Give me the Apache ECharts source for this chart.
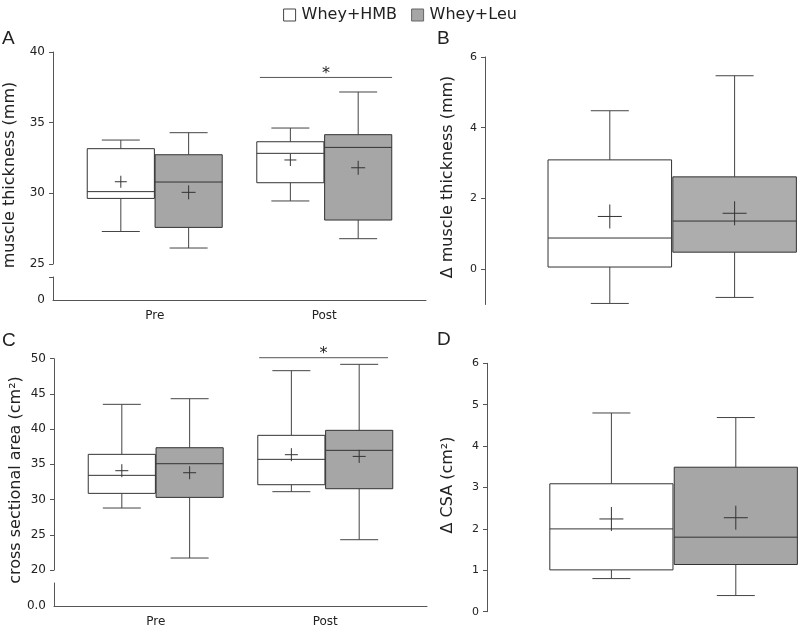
<!DOCTYPE html>
<html>
<head>
<meta charset="utf-8">
<script src="https://cdn.jsdelivr.net/npm/echarts@6/dist/echarts.min.js"></script>
<style>
html,body{margin:0;padding:0;background:#fff;}
#chart{width:800px;height:636px;}
</style>
</head>
<body>
<div id="chart"></div>
<script>
// ---- data (each box: [whisker min, Q1, median, Q3, whisker max, mean]) ----
const categories = ['Pre', 'Post'];
const groups = ['Whey+HMB', 'Whey+Leu'];

const mtHMB  = [[27.30, 29.64, 30.12, 33.16, 33.77, 30.82], [29.46, 30.75, 32.83, 33.65, 34.62, 32.36]];
const mtLeu  = [[26.13, 27.59, 30.80, 32.73, 34.29, 30.07], [26.79, 28.11, 33.25, 34.15, 37.17, 31.81]];
const dmtHMB = [-0.97, 0.06, 0.88, 3.09, 4.48, 1.49];
const dmtLeu = [-0.80, 0.48, 1.36, 2.61, 5.47, 1.58];
const csaHMB = [[28.80, 30.88, 33.44, 36.42, 43.52, 34.10], [31.12, 32.11, 35.71, 39.12, 48.30, 36.37]];
const csaLeu = [[21.70, 30.31, 35.09, 37.36, 44.32, 33.81], [24.30, 31.54, 36.99, 39.83, 49.20, 36.13]];
const dcsaHMB = [0.80, 1.01, 2.00, 3.09, 4.80, 2.24];
const dcsaLeu = [0.39, 1.14, 1.80, 3.49, 4.69, 2.27];

// significance brackets: [x start, x end, y]
const sigA = [1.62, 2.40, 38.2];
const sigC = [1.61, 2.37, 50.14];

// tick labels
const ticksA = [25, 30, 35, 40];
const ticksB = [0, 2, 4, 6];
const ticksC = [20, 25, 30, 35, 40, 45, 50];
const ticksD = [0, 1, 2, 3, 4, 5, 6];

// ---- styling ----
const FONT = 'DejaVu Sans';
const TXT = '#222';
const AX = '#555';
const BOX_OFF = 0.2, BOX_HALF = 0.198;
const FILL_HMB = '#ffffff';
const FILL_LEU = '#a6a6a6';
const FILL_LEU_B = '#adadad';

function boxSeries(name, rows, idx, offset, fill, crossPx) {
  return {
    type: 'custom', name: name, xAxisIndex: idx, yAxisIndex: idx,
    data: rows.map((d, i) => [i + 1].concat(d)),
    encode: { x: 0, y: [1, 2, 3, 4, 5, 6] },
    silent: true,
    renderItem: function (params, api) {
      const cx = api.value(0) + offset;
      const c = v => api.coord([cx, v]);
      const px = c(api.value(1))[0];
      const yMin = c(api.value(1))[1], yQ1 = c(api.value(2))[1], yMed = c(api.value(3))[1];
      const yQ3 = c(api.value(4))[1], yMax = c(api.value(5))[1], yMean = c(api.value(6))[1];
      const hw = api.size([BOX_HALF, 0])[0];
      const cap = 19;
      const ln = (x1, y1, x2, y2, col) => ({ type: 'line', shape: { x1, y1, x2, y2 }, style: { stroke: col || '#444', lineWidth: 1 } });
      return {
        type: 'group',
        children: [
          ln(px, yQ3, px, yMax), ln(px - cap, yMax, px + cap, yMax),
          ln(px, yQ1, px, yMin), ln(px - cap, yMin, px + cap, yMin),
          { type: 'rect', shape: { x: px - hw, y: yQ3, width: 2 * hw, height: yQ1 - yQ3 }, style: { fill: fill, stroke: '#333', lineWidth: 1 } },
          ln(px - hw, yMed, px + hw, yMed, '#333'),
          ln(px - crossPx, yMean, px + crossPx, yMean, '#333'),
          ln(px, yMean - crossPx, px, yMean + crossPx, '#333')
        ]
      };
    }
  };
}

function sigSeries(sig, idx) {
  return {
    type: 'custom', xAxisIndex: idx, yAxisIndex: idx, silent: true,
    data: [sig], encode: { x: [0, 1], y: 2 },
    renderItem: function (params, api) {
      const p1 = api.coord([api.value(0), api.value(2)]);
      const p2 = api.coord([api.value(1), api.value(2)]);
      return {
        type: 'group', children: [
          { type: 'line', shape: { x1: p1[0], y1: p1[1], x2: p2[0], y2: p2[1] }, style: { stroke: '#555', lineWidth: 1 } },
          { type: 'text', x: (p1[0] + p2[0]) / 2, y: p1[1] - 4, style: { text: '*', fill: TXT, font: '16px ' + FONT, textAlign: 'center', textVerticalAlign: 'middle' } }
        ]
      };
    }
  };
}

const labelStyle = (size) => ({ color: TXT, fontFamily: FONT, fontSize: size, margin: 8 });

function yAx(idx, min, max, ticks, size, fmt) {
  return {
    type: 'value', gridIndex: idx, min: min, max: max,
    axisLine: { show: true, lineStyle: { color: AX } },
    axisTick: { show: true, length: 4, customValues: ticks, lineStyle: { color: AX } },
    axisLabel: Object.assign(labelStyle(size), { customValues: ticks, formatter: fmt || (v => String(v)) }),
    splitLine: { show: false }
  };
}
function xHidden(idx, min, max) {
  return { type: 'value', gridIndex: idx, min: min, max: max, show: false };
}
function xCat(idx) {
  return {
    type: 'value', gridIndex: idx, min: 0.4, max: 2.6,
    axisLine: { show: true, lineStyle: { color: AX } },
    axisTick: { show: false },
    axisLabel: Object.assign(labelStyle(12), { margin: 10, customValues: [1, 2], formatter: v => categories[Math.round(v) - 1] }),
    splitLine: { show: false }
  };
}

const option = {
  backgroundColor: '#fff',
  animation: false,
  textStyle: { fontFamily: FONT },
  legend: {
    top: 2, left: 'center', itemWidth: 12, itemHeight: 12, itemGap: 14, selectedMode: false,
    textStyle: { color: TXT, fontSize: 16, fontFamily: FONT, padding: [0, 0, 0, 1] },
    data: [
      { name: groups[0], icon: 'rect', itemStyle: { color: FILL_HMB, borderColor: '#444', borderWidth: 1 } },
      { name: groups[1], icon: 'rect', itemStyle: { color: FILL_LEU, borderColor: '#666', borderWidth: 1 } }
    ]
  },
  grid: [
    { left: 53, top: 52, width: 373, height: 212 },     // A upper
    { left: 53, top: 277, width: 373, height: 23 },     // A lower
    { left: 485, top: 57, width: 312, height: 247.5 },  // B
    { left: 54, top: 358.7, width: 373, height: 211.3 },// C upper
    { left: 54, top: 583, width: 373, height: 23 },     // C lower
    { left: 487, top: 363.3, width: 311, height: 248.4 }// D
  ],
  xAxis: [
    xHidden(0, 0.4, 2.6), xCat(1), xHidden(2, 0.4, 1.4),
    xHidden(3, 0.4, 2.6), xCat(4), xHidden(5, 0.4, 1.4)
  ],
  yAxis: [
    yAx(0, 25, 40, ticksA, 12),
    Object.assign(yAx(1, 0, 1, [0], 12), { axisTick: { show: true, length: 4, customValues: [1], lineStyle: { color: AX } } }),
    yAx(2, -1, 6, ticksB, 11),
    yAx(3, 20, 50, ticksC, 12),
    Object.assign(yAx(4, 0, 1, [0], 12, () => '0.0'), { axisTick: { show: false } }),
    yAx(5, 0, 6, ticksD, 11)
  ],
  series: [
    boxSeries(groups[0], mtHMB, 0, -BOX_OFF, FILL_HMB, 6),
    boxSeries(groups[1], mtLeu, 0, BOX_OFF, FILL_LEU, 7),
    sigSeries(sigA, 0),
    boxSeries(groups[0], [dmtHMB], 2, -BOX_OFF, FILL_HMB, 12),
    boxSeries(groups[1], [dmtLeu], 2, BOX_OFF, FILL_LEU_B, 12),
    boxSeries(groups[0], csaHMB, 3, -BOX_OFF, FILL_HMB, 6.5),
    boxSeries(groups[1], csaLeu, 3, BOX_OFF, FILL_LEU, 6.5),
    sigSeries(sigC, 3),
    boxSeries(groups[0], [dcsaHMB], 5, -BOX_OFF, FILL_HMB, 12),
    boxSeries(groups[1], [dcsaLeu], 5, BOX_OFF, FILL_LEU, 12)
  ],
  graphic: [
    { type: 'text', x: 2, y: 39, style: { text: 'A', font: '19px Liberation Sans', fill: TXT, textVerticalAlign: 'middle' } },
    { type: 'text', x: 437, y: 39, style: { text: 'B', font: '19px Liberation Sans', fill: TXT, textVerticalAlign: 'middle' } },
    { type: 'text', x: 2, y: 341, style: { text: 'C', font: '19px Liberation Sans', fill: TXT, textVerticalAlign: 'middle' } },
    { type: 'text', x: 437, y: 340, style: { text: 'D', font: '19px Liberation Sans', fill: TXT, textVerticalAlign: 'middle' } },
    { type: 'text', x: 10, y: 175, rotation: Math.PI / 2, style: { text: 'muscle thickness (mm)', font: '16px ' + FONT, fill: TXT, textAlign: 'center', textVerticalAlign: 'middle' } },
    { type: 'text', x: 448, y: 177, rotation: Math.PI / 2, style: { text: 'Δ muscle thickness (mm)', font: '16px ' + FONT, fill: TXT, textAlign: 'center', textVerticalAlign: 'middle' } },
    { type: 'text', x: 16, y: 480, rotation: Math.PI / 2, style: { text: 'cross sectional area (cm²)', font: '16px ' + FONT, fill: TXT, textAlign: 'center', textVerticalAlign: 'middle' } },
    { type: 'text', x: 448, y: 485, rotation: Math.PI / 2, style: { text: 'Δ CSA (cm²)', font: '16px ' + FONT, fill: TXT, textAlign: 'center', textVerticalAlign: 'middle' } }
  ]
};

const chart = echarts.init(document.getElementById('chart'), null, { renderer: 'canvas' });
chart.setOption(option);
</script>
</body>
</html>
